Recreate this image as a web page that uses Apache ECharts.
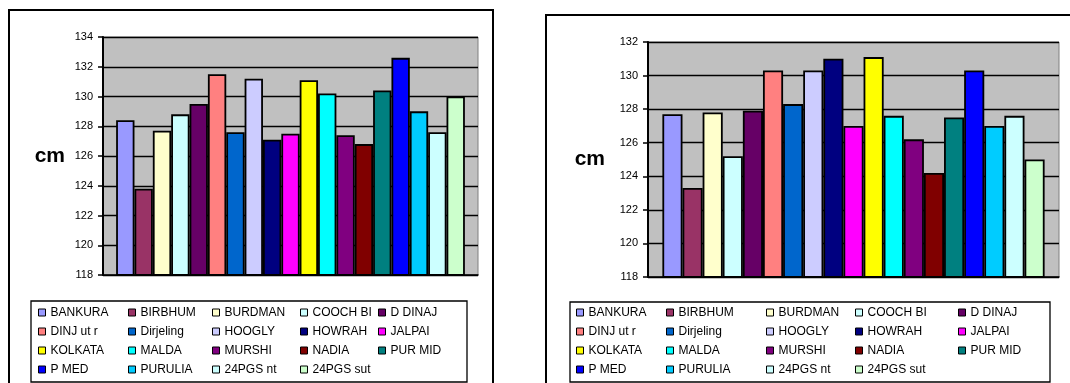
<!DOCTYPE html>
<html>
<head>
<meta charset="utf-8">
<script src="https://cdn.jsdelivr.net/npm/echarts@6/dist/echarts.min.js"></script>
<style>
  html, body { margin: 0; padding: 0; background: #ffffff; }
  #chart { width: 1070px; height: 383px; }
</style>
</head>
<body>
<div id="chart"></div>
<script>
// District names, in legend order
const districts = [
  'BANKURA', 'BIRBHUM', 'BURDMAN', 'COOCH BI', 'D DINAJ',
  'DINJ ut r', 'Dirjeling', 'HOOGLY', 'HOWRAH', 'JALPAI',
  'KOLKATA', 'MALDA', 'MURSHI', 'NADIA', 'PUR MID',
  'P MED', 'PURULIA', '24PGS nt', '24PGS sut'
];

// Fill colour for each district
const districtColors = [
  '#9999FF', '#993366', '#FFFFCC', '#CCFFFF', '#660066',
  '#FF8080', '#0066CC', '#CCCCFF', '#000080', '#FF00FF',
  '#FFFF00', '#00FFFF', '#800080', '#800000', '#008080',
  '#0000FF', '#00CCFF', '#CCFFFF', '#CCFFCC'
];

// Height in cm, first panel
const heightsA = [
  128.4, 123.8, 127.7, 128.8, 129.5,
  131.5, 127.6, 131.2, 127.1, 127.5,
  131.1, 130.2, 127.4, 126.8, 130.4,
  132.6, 129.0, 127.6, 130.0
];

// Height in cm, second panel
const heightsB = [
  127.7, 123.3, 127.8, 125.2, 127.9,
  130.3, 128.3, 130.3, 131.0, 127.0,
  131.1, 127.6, 126.2, 124.2, 127.5,
  130.3, 127.0, 127.6, 125.0
];

// Value axis ranges
const axisA = { min: 118, max: 134, step: 2 };
const axisB = { min: 118, max: 132, step: 2 };
const unitLabel = 'cm';

const FONT = '"Liberation Sans", Arial, sans-serif';

const panels = [
  { values: heightsA, axis: axisA,
    grid: { left: 103, top: 37, width: 375, height: 238 },
    nameGap: 38,
    legendTop: 306, legendCols: [38, 128, 212, 300, 378] },
  { values: heightsB, axis: axisB,
    grid: { left: 648, top: 42, width: 411, height: 235 },
    nameGap: 43,
    legendTop: 306, legendCols: [576, 666, 766, 855, 958] }
];

const grids = [], xAxes = [], yAxes = [], series = [], legends = [];

panels.forEach((p, pi) => {
  grids.push(Object.assign({
    show: true,
    backgroundColor: '#C0C0C0',
    borderColor: '#808080',
    borderWidth: 1
  }, p.grid));

  xAxes.push({
    type: 'category',
    gridIndex: pi,
    data: [''],
    axisLine: { lineStyle: { color: '#000', width: 1.5 } },
    axisTick: { show: false },
    axisLabel: { show: false }
  });

  yAxes.push({
    type: 'value',
    gridIndex: pi,
    min: p.axis.min,
    max: p.axis.max,
    interval: p.axis.step,
    name: unitLabel,
    nameLocation: 'middle',
    nameRotate: 0,
    nameGap: p.nameGap,
    nameTextStyle: { fontFamily: FONT, fontSize: 21, fontWeight: 'bold', color: '#000' },
    axisLine: { show: true, lineStyle: { color: '#000', width: 2 } },
    axisTick: { show: true, length: 5, lineStyle: { color: '#000', width: 1.5 } },
    axisLabel: { fontFamily: FONT, fontSize: 11, color: '#000', margin: 10 },
    splitLine: { show: true, lineStyle: { color: '#000', width: 1.3 } }
  });

  districts.forEach((name, i) => {
    series.push({
      type: 'bar',
      name: name,
      xAxisIndex: pi,
      yAxisIndex: pi,
      data: [p.values[i]],
      barGap: '0%',
      barCategoryGap: '7%',
      itemStyle: { color: districtColors[i], borderColor: '#000', borderWidth: 1.8 },
      emphasis: { disabled: true },
      animation: false
    });
  });

  // Legend laid out as 5 columns, filled row by row
  p.legendCols.forEach((x, c) => {
    const colNames = districts.filter((_, i) => i % 5 === c);
    legends.push({
      orient: 'vertical',
      left: x,
      top: p.legendTop,
      padding: 0,
      itemGap: 6,
      itemWidth: 7,
      itemHeight: 7,
      icon: 'rect',
      selectedMode: false,
      itemStyle: { borderColor: '#000', borderWidth: 1 },
      textStyle: { fontFamily: FONT, fontSize: 12, color: '#000', lineHeight: 13 },
      data: colNames
    });
  });
});

const chart = echarts.init(document.getElementById('chart'), null, { renderer: 'canvas' });
chart.setOption({
  animation: false,
  backgroundColor: '#ffffff',
  grid: grids,
  xAxis: xAxes,
  yAxis: yAxes,
  legend: legends,
  series: series,
  graphic: [
    // outer frames
    { type: 'rect', shape: { x: 9, y: 10, width: 484, height: 400 },
      style: { fill: 'none', stroke: '#000', lineWidth: 2 }, z: -1 },
    { type: 'rect', shape: { x: 546, y: 15, width: 600, height: 400 },
      style: { fill: 'none', stroke: '#000', lineWidth: 2 }, z: -1 },
    // legend frames
    { type: 'rect', shape: { x: 31, y: 301, width: 436, height: 81 },
      style: { fill: 'none', stroke: '#000', lineWidth: 1.3 }, z: -1 },
    { type: 'rect', shape: { x: 570, y: 302, width: 480, height: 80 },
      style: { fill: 'none', stroke: '#000', lineWidth: 1.3 }, z: -1 }
  ]
});
</script>
</body>
</html>
